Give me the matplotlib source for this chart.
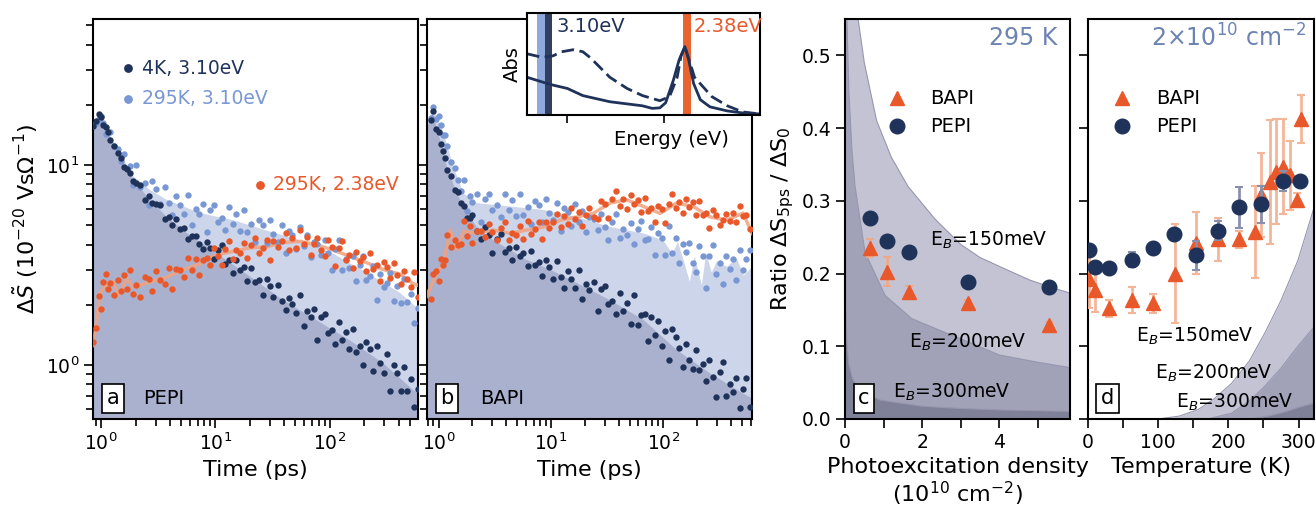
import matplotlib
matplotlib.use("Agg")
import matplotlib.pyplot as plt
from matplotlib.ticker import NullFormatter, FixedLocator

plt.rcParams['font.family'] = 'DejaVu Sans'
plt.rcParams['mathtext.fontset'] = 'dejavusans'

# ---------------- data ----------------
# delay times (ps), shared by the scatter series of panels a and b
t_ps = [0.85, 0.9, 0.95, 1.0, 1.05, 1.1, 1.15, 1.2, 1.3, 1.4,
        1.5, 1.6, 1.7, 1.8, 1.9, 2.0, 2.2, 2.4, 2.6, 2.8,
        3.0, 3.3, 3.6, 3.9, 4.2, 4.5, 4.9, 5.3, 5.7, 6.2,
        6.7, 7.2, 7.8, 8.4, 9.0, 9.7, 10.5, 11.3, 12.2, 13.1,
        14.1, 15.2, 16.4, 17.7, 19, 20.5, 22, 24, 26, 28,
        30, 32, 35, 38, 41, 44, 47, 51, 55, 59,
        63, 68, 73, 78, 84, 90, 97, 104, 112, 120,
        129, 138, 148, 159, 170, 182, 195, 209, 224, 240,
        257, 275, 295, 316, 338, 362, 388, 415, 445, 477,
        511, 547, 585]

# panel a (PEPI)
a_4K = [15.6, 16.6, 17.9, 17.3, 15.9, 15.4, 14.7, 13.3, 12.4, 11.5,
        10.9, 9.8, 9.5, 9.1, 8.35, 8.1, 7.9, 6.7, 7.0, 6.45,
        6.35, 6.3, 5.4, 5.5, 5.0, 5.4, 4.8, 4.85, 4.25, 4.4,
        4.4, 4.02, 3.8, 4.1, 3.86, 3.4, 3.75, 3.97, 3.2, 3.35,
        2.9, 3.35, 3.0, 3.1, 2.63, 3.07, 2.6, 2.67, 2.25, 2.68,
        2.48, 2.2, 2.5, 2.1, 1.89, 2.17, 2.01, 1.81, 2.24, 1.57,
        1.87, 1.74, 1.9, 1.34, 1.73, 1.79, 1.45, 1.5, 1.28, 1.64,
        1.33, 1.47, 1.2, 1.51, 1.16, 1.25, 1.0, 1.3, 1.2, 0.93,
        1.25, 1.02, 0.91, 1.13, 0.74, 1.0, 0.91, 0.74, 0.98, 0.74,
        0.85, 0.62, 0.76]
a_hot = [15.7, 16.2, 16.9, 17.6, 16.2, 14.3, 14.7, 14.6, 12.5, 12.0,
         10.5, 11.3, 9.5, 9.85, 7.9, 10.0, 7.8, 8.1, 6.3, 8.3,
         7.55, 6.4, 7.75, 6.45, 5.65, 6.98, 6.3, 5.67, 7.1, 5.0,
         6.05, 5.7, 6.35, 4.6, 5.97, 6.3, 5.19, 5.46, 4.75, 6.15,
         5.09, 5.67, 4.66, 5.97, 4.65, 5.07, 4.12, 5.3, 5.0, 4.09,
         5.3, 4.5, 4.12, 5.0, 3.62, 4.67, 4.45, 3.78, 4.87, 3.93,
         4.45, 3.46, 4.1, 4.02, 3.53, 4.22, 3.63, 2.98, 3.8, 4.23,
         2.99, 3.37, 3.06, 3.52, 2.62, 3.18, 3.5, 2.66, 2.8, 3.14,
         2.12, 2.86, 2.46, 2.57, 2.87, 2.08, 2.48, 2.04, 2.68, 2.07,
         2.27, 1.62, 1.93]
a_or = [1.3, 1.53, 2.22, 1.9, 2.6, 2.85, 2.41, 2.58, 2.24, 2.65,
        2.35, 2.83, 2.41, 2.98, 2.26, 2.52, 2.18, 2.74, 2.68, 2.35,
        2.95, 2.65, 2.53, 3.04, 2.41, 3.03, 3.0, 2.74, 3.43, 2.98,
        3.38, 2.83, 3.36, 3.41, 3.18, 3.84, 3.5, 3.17, 3.8, 4.19,
        3.4, 3.75, 3.61, 4.07, 3.43, 3.97, 4.32, 3.65, 3.86, 4.24,
        3.36, 4.18, 3.89, 4.15, 4.57, 3.76, 4.3, 3.84, 4.71, 4.02,
        4.35, 3.54, 4.02, 4.31, 3.74, 3.51, 4.22, 3.89, 3.12, 3.85,
        4.17, 3.34, 3.56, 3.06, 3.68, 3.31, 3.48, 2.96, 3.62, 3.02,
        3.17, 2.63, 3.29, 3.09, 2.73, 3.24, 2.81, 2.54, 2.96, 2.7,
        2.45, 2.91, 2.2]

a_4K_fit_t = [0.8, 0.98, 1.37, 1.91, 2.68, 3.75, 5.6, 10.2, 20, 39, 76, 149, 293, 535, 600]
a_4K_fit = [14.5, 17.8, 11.9, 8.4, 6.7, 5.5, 4.57, 3.63, 2.77, 2.11, 1.68, 1.33, 1.02, 0.75, 0.72]
a_hot_fit_t = [0.8, 0.95, 1.37, 1.91, 2.68, 3.75, 7.3, 14.2, 28, 55, 107, 209, 409, 600]
a_hot_fit = [14.0, 17.5, 12.2, 8.8, 7.5, 6.7, 5.75, 5.3, 4.7, 4.2, 3.6, 2.9, 2.3, 1.9]
a_or_fit_t = [0.85, 0.9, 0.98, 1.12, 1.28, 1.42, 1.68, 1.92, 2.68, 3.75, 5.2, 7.3, 10.2,
              14.3, 20, 28, 39, 55, 76, 107, 149, 209, 293, 409, 535, 600]
a_or_fit = [1.25, 1.55, 2.3, 2.55, 2.6, 2.25, 2.7, 2.45, 2.6, 2.75, 3.0, 3.2, 3.55,
            3.7, 3.85, 3.9, 4.1, 4.15, 4.0, 3.75, 3.5, 3.25, 3.0, 2.85, 2.55, 2.5]

# panel b (BAPI)
b_4K = [16.75, 18.6, 15.1, 14.6, 12.8, 11.7, 10.9, 9.4, 8.8, 7.5,
        7.35, 6.45, 6.25, 5.45, 5.45, 5.62, 4.69, 4.29, 4.91, 4.47,
        3.64, 4.27, 4.51, 3.66, 3.85, 3.36, 3.88, 3.5, 3.65, 3.14,
        3.7, 3.16, 3.27, 2.77, 3.34, 3.1, 2.68, 3.31, 2.75, 2.42,
        2.96, 2.7, 2.42, 3.0, 2.13, 2.55, 2.38, 2.61, 1.86, 2.39,
        2.49, 2.02, 2.08, 1.79, 2.28, 1.86, 2.05, 1.6, 2.25, 1.58,
        1.78, 1.79, 1.32, 1.73, 1.42, 1.65, 1.24, 1.48, 1.06, 1.51,
        1.38, 1.22, 0.98, 1.28, 1.06, 0.95, 1.19, 0.94, 1.01, 0.83,
        1.06, 0.87, 0.69, 0.92, 1.04, 0.7, 0.8, 0.73, 0.86, 0.61,
        0.76, 0.86, 0.62]
b_hot = [17.2, 19.4, 16.9, 17.5, 15.9, 14.1, 14.2, 12.4, 10.3, 9.7,
         8.4, 7.4, 8.4, 5.87, 6.97, 6.53, 7.16, 5.2, 6.77, 7.19,
         5.95, 6.29, 5.5, 7.16, 5.96, 6.69, 5.54, 7.17, 5.61, 6.19,
         5.07, 6.61, 6.29, 5.19, 6.76, 5.78, 5.31, 6.48, 4.7, 6.08,
         5.8, 4.97, 6.41, 5.2, 5.91, 4.61, 5.51, 5.38, 4.74, 5.69,
         4.92, 4.22, 5.17, 5.7, 4.31, 4.8, 4.48, 5.1, 4.05, 4.8,
         5.27, 4.22, 4.29, 4.88, 3.55, 4.57, 4.31, 3.54, 4.96, 3.64,
         4.33, 3.25, 4.02, 3.68, 4.07, 3.25, 2.91, 3.94, 3.5, 2.43,
         3.49, 3.99, 2.84, 3.22, 2.55, 3.5, 3.02, 3.38, 2.66, 3.74,
         2.98, 3.38, 3.74]
b_or = [2.14, 2.86, 2.96, 2.64, 3.39, 3.15, 3.34, 4.49, 3.89, 4.22,
        3.99, 4.01, 5.23, 4.44, 4.93, 4.07, 4.68, 4.7, 4.38, 5.07,
        4.65, 4.21, 4.85, 5.18, 4.24, 4.59, 4.46, 4.95, 4.27, 5.24,
        4.54, 4.77, 5.21, 4.27, 5.17, 4.86, 5.17, 5.71, 4.89, 5.54,
        5.06, 6.09, 5.36, 5.83, 4.95, 5.62, 6.07, 5.51, 5.4, 6.6,
        6.37, 5.46, 6.75, 7.42, 6.23, 6.74, 6.04, 7.06, 6.41, 6.71,
        5.8, 6.87, 5.86, 6.1, 5.17, 6.27, 6.0, 5.12, 6.36, 7.12,
        6.07, 6.51, 5.75, 6.78, 6.19, 6.52, 5.63, 6.64, 5.62, 5.78,
        4.86, 5.93, 5.62, 5.04, 5.3, 5.71, 5.22, 5.74, 5.18, 6.27,
        5.59, 5.6, 4.8]

b_4K_fit_t = [0.78, 0.89, 1.035, 1.19, 1.46, 1.79, 2.19, 3.08, 4.34, 6.1, 9.8, 17,
              33.5, 66.6, 131, 259, 512, 620]
b_4K_fit = [15.0, 18.1, 13.3, 9.8, 7.2, 5.75, 4.9, 4.2, 3.76, 3.35, 3.0, 2.57,
            2.11, 1.68, 1.19, 0.91, 0.72, 0.68]
b_hot_fit_t = [0.78, 0.9, 1.11, 1.36, 1.67, 2.19, 4.34, 8.6, 17, 33.5, 66.6, 100, 120,
               135, 150, 172, 190, 220, 240, 270, 300, 367, 450, 520, 620]
b_hot_fit = [16.0, 19.2, 14.4, 9.8, 7.2, 6.45, 6.2, 5.96, 5.5, 4.9, 4.55, 4.2, 3.6,
             4.1, 3.4, 2.6, 3.5, 2.5, 3.6, 2.9, 3.3, 3.1, 3.4, 2.8, 3.1]
b_or_fit_t = [0.78, 0.97, 1.11, 1.27, 1.46, 1.67, 2.19, 3.08, 4.34, 6.1, 8.6, 12.1, 17,
              23.8, 33.5, 47, 66.6, 93.5, 131, 185, 259, 367, 512, 614]
b_or_fit = [2.2, 2.9, 3.24, 4.73, 3.76, 4.65, 4.55, 4.73, 4.55, 4.73, 4.9, 5.3, 5.5,
            5.73, 6.45, 6.7, 6.2, 5.73, 6.45, 6.2, 5.5, 5.3, 5.75, 4.55]

# inset absorption spectra
E_solid = [3.21, 3.09, 3.0, 2.92, 2.78, 2.61, 2.56, 2.52, 2.49, 2.45, 2.42, 2.39,
           2.37, 2.345, 2.31, 2.26, 2.17, 2.09, 2.0]
abs_solid = [0.37, 0.30, 0.26, 0.19, 0.13, 0.09, 0.065, 0.07, 0.12, 0.34, 0.54, 0.67,
             0.54, 0.31, 0.15, 0.08, 0.04, 0.02, 0.01]
E_dash = [3.21, 3.13, 3.075, 3.03, 2.97, 2.92, 2.88, 2.78, 2.69, 2.61, 2.52, 2.47,
          2.43, 2.41, 2.39, 2.34, 2.25, 2.17, 2.09, 2.0]
abs_dash = [0.60, 0.565, 0.58, 0.62, 0.64, 0.62, 0.56, 0.37, 0.26, 0.19, 0.14, 0.18,
            0.37, 0.58, 0.67, 0.37, 0.18, 0.09, 0.03, 0.01]

# panel c: ratio vs density at 295 K
c_n = [0.65, 1.1, 1.66, 3.2, 5.28]
c_bapi = [0.235, 0.2025, 0.175, 0.159, 0.129]
c_bapi_err = [0.012, 0.02, 0.008, 0.004, 0.004]
c_pepi = [0.277, 0.245, 0.229, 0.189, 0.182]
c_pepi_err = [0.004, 0.004, 0.003, 0.003, 0.003]

c_n_150 = [0.0, 0.34, 0.5, 0.82, 1.2, 1.63, 2.33, 3.0, 3.5, 4.2, 4.79, 5.4, 5.9]
c_150 = [1.0, 0.55, 0.49, 0.41, 0.36, 0.32, 0.275, 0.24, 0.222, 0.205, 0.191, 0.18, 0.172]
c_n_200 = [0.0, 0.05, 0.1, 0.18, 0.26, 0.52, 1.04, 1.73, 2.59, 3.1, 4.0, 5.0, 5.9]
c_200 = [1.0, 0.55, 0.45, 0.37, 0.32, 0.229, 0.17, 0.138, 0.119, 0.108, 0.088, 0.078, 0.07]
c_n_300 = [0.0, 0.02, 0.05, 0.1, 0.2, 0.4, 0.91, 2.0, 3.0, 4.0, 5.9]
c_300 = [1.0, 0.16, 0.106, 0.076, 0.055, 0.039, 0.026, 0.0176, 0.0145, 0.0125, 0.0103]

# panel d: ratio vs temperature at 2e10 cm^-2
d_T_bapi = [2, 10, 30, 62, 92, 124, 154, 185, 215, 238, 247, 259, 268, 278, 288, 298, 304]
d_bapi = [0.193, 0.177, 0.152, 0.164, 0.159, 0.200, 0.242, 0.247, 0.247, 0.257, 0.308,
          0.326, 0.340, 0.347, 0.335, 0.301, 0.413]
d_bapi_err = [0.04, 0.03, 0.012, 0.018, 0.013, 0.068, 0.042, 0.03, 0.012, 0.063, 0.058,
              0.085, 0.072, 0.065, 0.047, 0.01, 0.033]
d_T_pepi = [2, 10, 30, 62, 92, 123, 154, 185, 215, 247, 278, 302]
d_pepi = [0.232, 0.209, 0.208, 0.219, 0.2345, 0.254, 0.225, 0.259, 0.291, 0.295, 0.327, 0.327]
d_pepi_err = [0.004, 0.004, 0.004, 0.01, 0.008, 0.006, 0.02, 0.013, 0.028, 0.025, 0.014, 0.004]

d_T_150 = [100, 130, 157, 180, 204.6, 230, 251.8, 275, 299, 325]
d_150 = [0.0, 0.004, 0.013, 0.028, 0.049, 0.08, 0.118, 0.163, 0.218, 0.30]
d_T_200 = [170, 204.6, 230, 251.8, 275, 299, 325]
d_200 = [0.0, 0.008, 0.025, 0.045, 0.07, 0.1, 0.13]
d_T_300 = [230, 260, 280, 299, 325]
d_300 = [0.0, 0.005, 0.01, 0.016, 0.023]

# ---------------- styles ----------------
NAVY = '#1f3259'
LIGHT = '#7897d3'
ORANGE = '#e8582a'
ORANGE_LINE = '#f0a27f'
FILL_DARK = '#a9b1cf'
FILL_LIGHT = '#cdd5eb'
SH1, SH2, SH3 = '#c4c3d4', '#a1a2b8', '#7f8199'
TXT_BLUE = '#6d84b3'
DOT = 21

W, H = 1316, 512
fig = plt.figure(figsize=(W / 100, H / 100), dpi=100)


def px_axes(x0, y0, x1, y1):
    return fig.add_axes([x0 / W, 1 - y1 / H, (x1 - x0) / W, (y1 - y0) / H])


def style(ax):
    for s in ax.spines.values():
        s.set_linewidth(1.5)
    ax.tick_params(which='both', direction='out', width=1.2, labelsize=13.5)
    ax.tick_params(which='major', length=6.5)
    ax.tick_params(which='minor', length=5)


ax_a = px_axes(93, 19, 418, 419)
ax_b = px_axes(427, 19, 752, 419)
ax_in = px_axes(527, 13, 760, 115)
ax_c = px_axes(845, 19, 1070, 419)
ax_d = px_axes(1088, 19, 1314, 419)

# ---------------- panels a and b ----------------
panels = [
    (ax_a, a_4K, a_hot, a_or, a_4K_fit_t, a_4K_fit, a_hot_fit_t, a_hot_fit,
     a_or_fit_t, a_or_fit, (0.85, 590), 'a', 'PEPI', 0.155),
    (ax_b, b_4K, b_hot, b_or, b_4K_fit_t, b_4K_fit, b_hot_fit_t, b_hot_fit,
     b_or_fit_t, b_or_fit, (0.79, 614), 'b', 'BAPI', 0.163),
]
for (ax, s4, shot, sor, f4t, f4, fht, fh, fot, fo, xl, lab, name, xn) in panels:
    ax.set_xscale('log')
    ax.set_yscale('log')
    ax.fill_between(fht, fh, 0.01, color=FILL_LIGHT, lw=0, zorder=1)
    ax.fill_between(f4t, f4, 0.01, color=FILL_DARK, lw=0, zorder=2)
    ax.plot(fot, fo, color=ORANGE_LINE, lw=2.5, alpha=0.85, zorder=3)
    ax.scatter(t_ps, shot, s=DOT, color=LIGHT, lw=0, zorder=4)
    ax.scatter(t_ps, s4, s=DOT, color=NAVY, lw=0, zorder=5)
    ax.scatter(t_ps, sor, s=DOT, color=ORANGE, lw=0, zorder=6)
    ax.set_xlim(*xl)
    ax.set_ylim(0.537, 53.7)
    ax.set_xlabel('Time (ps)', fontsize=16)
    style(ax)
    ax.xaxis.set_minor_formatter(NullFormatter())
    ax.yaxis.set_minor_formatter(NullFormatter())
    ax.text(0.061, 0.052, lab, transform=ax.transAxes, ha='center', va='center',
            fontsize=15, zorder=10,
            bbox=dict(boxstyle='square,pad=0.22', fc='white', ec='black', lw=1.2))
    ax.text(xn, 0.052, name, transform=ax.transAxes,
            ha='left', va='center', fontsize=14, zorder=10)

ax_a.set_ylabel(r'$\Delta\tilde{S}$ ($10^{-20}$ Vs$\Omega^{-1}$)', fontsize=16)
ax_b.tick_params(labelleft=False)

# series labels in panel a
for (xd, xt, yy, col, txt) in [(0.109, 0.150, 0.877, NAVY, '4K, 3.10eV'),
                               (0.109, 0.150, 0.800, LIGHT, '295K, 3.10eV'),
                               (0.514, 0.554, 0.585, ORANGE, '295K, 2.38eV')]:
    ax_a.scatter([xd], [yy], s=40, color=col, lw=0, transform=ax_a.transAxes, zorder=10)
    ax_a.text(xt, yy, txt, color=col, fontsize=13.5, va='center', ha='left',
              transform=ax_a.transAxes, zorder=10)

# ---------------- inset ----------------
ax_in.axvspan(3.16, 3.115, color='#8eaadc', lw=0)
ax_in.axvspan(3.115, 3.078, color='#333f60', lw=0)
ax_in.axvspan(2.40, 2.36, color='#e8632f', lw=0)
ax_in.plot(E_solid, abs_solid, color=NAVY, lw=2)
ax_in.plot(E_dash, abs_dash, color=NAVY, lw=2, ls=(0, (4.5, 2)))
ax_in.set_xlim(3.21, 2.0)
ax_in.set_ylim(0, 1)
ax_in.set_xticks([3.0, 2.5])
ax_in.set_xticklabels([])
ax_in.set_yticks([])
for s in ax_in.spines.values():
    s.set_linewidth(1.5)
ax_in.tick_params(direction='out', length=6, width=1.2)
ax_in.text(3.055, 0.87, '3.10eV', color=NAVY, fontsize=14, va='center', ha='left')
ax_in.text(2.345, 0.87, '2.38eV', color=ORANGE, fontsize=14, va='center', ha='left')
ax_in.set_ylabel('Abs', fontsize=14, labelpad=4)
ax_in.set_xlabel('Energy (eV)', fontsize=14)
ax_in.xaxis.set_label_coords(0.62, -0.15)

# ---------------- panel c ----------------
ax_c.fill_between(c_n_150, c_150, 0, color=SH1, lw=0, zorder=1)
ax_c.fill_between(c_n_200, c_200, 0, color=SH2, lw=0, zorder=1)
ax_c.fill_between(c_n_300, c_300, 0, color=SH3, lw=0, zorder=1)
for xs, ys in [(c_n_150, c_150), (c_n_200, c_200), (c_n_300, c_300)]:
    ax_c.plot(xs, ys, color='#9697ae', lw=0.8, zorder=2)
ax_c.errorbar(c_n, c_bapi, yerr=c_bapi_err, fmt='^', ms=10, color=ORANGE,
              ecolor='#eea98a', elinewidth=2, capsize=3, capthick=1.5, zorder=4)
ax_c.errorbar(c_n, c_pepi, yerr=c_pepi_err, fmt='o', ms=10.5, color=NAVY,
              ecolor='#7d84a3', elinewidth=2, capsize=3, capthick=1.5, zorder=5)
ax_c.set_xlim(0, 5.83)
ax_c.set_ylim(0, 0.55)
ax_c.set_xticks([0, 2, 4])
ax_c.xaxis.set_minor_locator(FixedLocator([1, 3, 5]))
ax_c.set_yticks([0.0, 0.1, 0.2, 0.3, 0.4, 0.5])
style(ax_c)
ax_c.tick_params(which='minor', length=6.5)
ax_c.set_xlabel('Photoexcitation density\n($10^{10}$ cm$^{-2}$)', fontsize=16, linespacing=1.1)
ax_c.set_ylabel(r'Ratio $\Delta$S$_{\mathrm{5ps}}$ / $\Delta$S$_0$', fontsize=16)
ax_c.text(0.942, 0.952, '295 K', transform=ax_c.transAxes, ha='right', va='center',
          color=TXT_BLUE, fontsize=17)
ax_c.text(2.2, 0.245, r'E$_B$=150meV', fontsize=13.5, va='center', zorder=6)
ax_c.text(1.67, 0.106, r'E$_B$=200meV', fontsize=13.5, va='center', zorder=6)
ax_c.text(1.25, 0.036, r'E$_B$=300meV', fontsize=13.5, va='center', zorder=6)
ax_c.text(0.084, 0.052, 'c', transform=ax_c.transAxes, ha='center', va='center',
          fontsize=15, zorder=10,
          bbox=dict(boxstyle='square,pad=0.22', fc='white', ec='black', lw=1.2))

# ---------------- panel d ----------------
ax_d.fill_between(d_T_150, d_150, 0, color=SH1, lw=0, zorder=1)
ax_d.fill_between(d_T_200, d_200, 0, color=SH2, lw=0, zorder=1)
ax_d.fill_between(d_T_300, d_300, 0, color=SH3, lw=0, zorder=1)
for xs, ys in [(d_T_150, d_150), (d_T_200, d_200), (d_T_300, d_300)]:
    ax_d.plot(xs, ys, color='#9697ae', lw=0.8, zorder=2)
ax_d.errorbar(d_T_bapi, d_bapi, yerr=d_bapi_err, fmt='^', ms=10, color=ORANGE,
              ecolor='#f4b698', elinewidth=2, capsize=3, capthick=1.5, zorder=4)
ax_d.errorbar(d_T_pepi, d_pepi, yerr=d_pepi_err, fmt='o', ms=10.5, color=NAVY,
              ecolor='#8a90ac', elinewidth=2, capsize=3, capthick=1.5, zorder=5)
ax_d.set_xlim(0, 322)
ax_d.set_ylim(0, 0.55)
ax_d.set_xticks([0, 100, 200, 300])
ax_d.xaxis.set_minor_locator(FixedLocator([50, 150, 250]))
ax_d.set_yticks([0.0, 0.1, 0.2, 0.3, 0.4, 0.5])
style(ax_d)
ax_d.tick_params(which='minor', length=6.5)
ax_d.tick_params(labelleft=False)
ax_d.set_xlabel('Temperature (K)', fontsize=16)
ax_d.text(0.965, 0.952, '2×10$^{10}$ cm$^{-2}$', transform=ax_d.transAxes, ha='right',
          va='center', color=TXT_BLUE, fontsize=17)
ax_d.text(68, 0.113, r'E$_B$=150meV', fontsize=13.5, va='center', zorder=6)
ax_d.text(95, 0.063, r'E$_B$=200meV', fontsize=13.5, va='center', zorder=6)
ax_d.text(126, 0.023, r'E$_B$=300meV', fontsize=13.5, va='center', zorder=6)
ax_d.text(0.086, 0.052, 'd', transform=ax_d.transAxes, ha='center', va='center',
          fontsize=15, zorder=10,
          bbox=dict(boxstyle='square,pad=0.22', fc='white', ec='black', lw=1.2))

# legends of c and d (markers + labels)
for ax, xm, xt in [(ax_c, 0.23, 0.378), (ax_d, 0.15, 0.30)]:
    ax.plot([xm], [0.802], '^', ms=10, color=ORANGE, transform=ax.transAxes, zorder=10)
    ax.plot([xm], [0.7325], 'o', ms=10.5, color=NAVY, transform=ax.transAxes, zorder=10)
    ax.text(xt, 0.802, 'BAPI', transform=ax.transAxes, va='center', fontsize=14)
    ax.text(xt, 0.7325, 'PEPI', transform=ax.transAxes, va='center', fontsize=14)

fig.savefig('out.png', dpi=100)
